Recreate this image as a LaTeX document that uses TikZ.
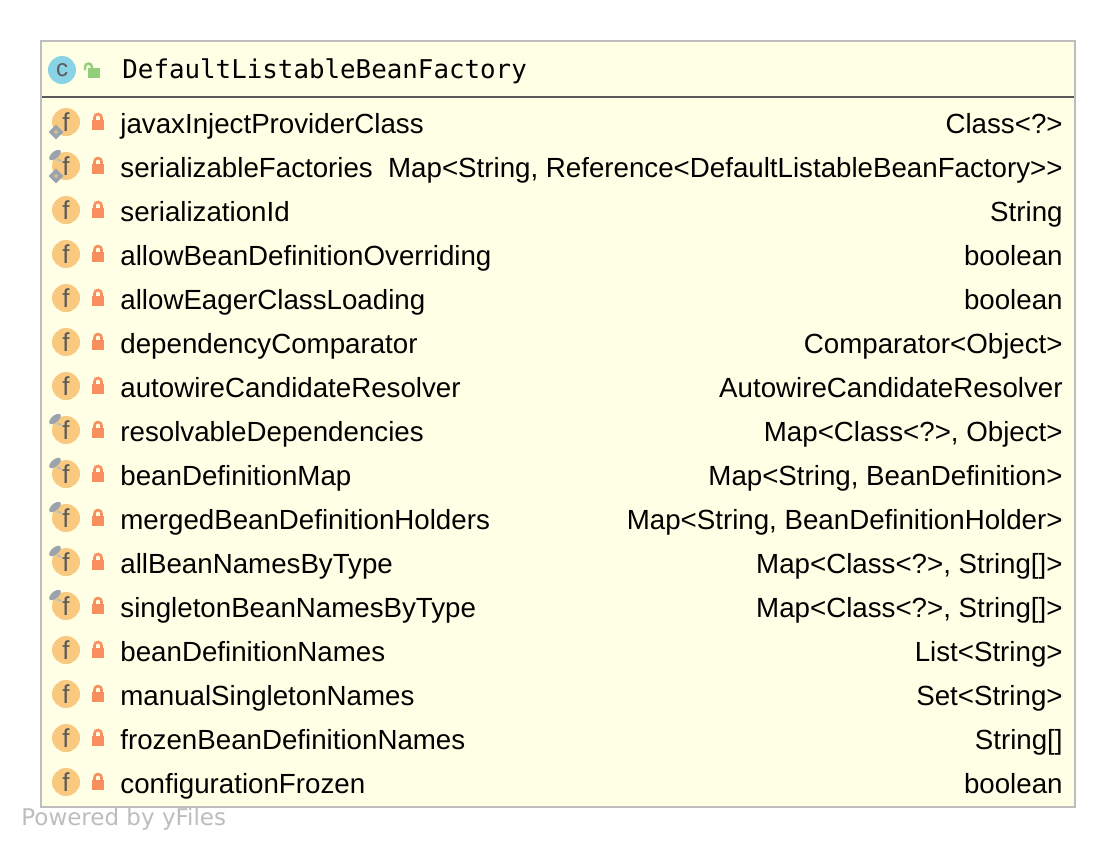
\documentclass[tikz,border=0pt]{standalone}
\usepackage{fontspec}
\setmainfont{Liberation Sans}
\setmonofont{DejaVu Sans Mono}
\newfontfamily\yfont{DejaVu Sans}
\definecolor{boxfill}{HTML}{FFFFE6}
\definecolor{boxline}{HTML}{BDBDBD}
\definecolor{headline}{HTML}{5A5A5A}
\definecolor{fieldcol}{HTML}{F8C97E}
\definecolor{lockcol}{HTML}{F98E5F}
\definecolor{classcol}{HTML}{8AD3E6}
\definecolor{opencol}{HTML}{90D07A}
\definecolor{markcol}{HTML}{9AA3AE}
\tikzset{fieldname/.style = {anchor=base west, inner sep=0pt, font=\fontsize{13.85}{16}\selectfont},
         fieldtype/.style = {anchor=base east, inner sep=0pt, font=\fontsize{13.85}{16}\selectfont}}
\newcommand{\fieldicon}[1]{%
  \fill [fieldcol] (66, #1-1) circle (14);
  \node [inner sep=0pt, text=headline, font=\fontsize{13}{15}\selectfont] at (66, #1-1) {f};
  \fill [lockcol] (92, #1-3) rectangle (104, #1+7);
  \draw [lockcol, line width=1.3pt] (94.5, #1-3) -- (94.5, #1-5.5) arc (180:360:3.5) -- (101.5, #1-3);
}
\newcommand{\finalmark}[1]{%
  \draw [markcol, fill=fieldcol!60!markcol, line width=1.6pt] (51, #1+9) -- (56, #1+4) -- (61, #1+9) -- (56, #1+14) -- cycle;
}
\newcommand{\pinmark}[1]{%
  \fill [markcol, rotate around={40:(55, #1-12)}] (55, #1-12) ellipse (7 and 3.5);
  \fill [markcol!70!white] (58, #1-9) -- (63, #1-5) -- (57, #1-6) -- cycle;
}
\begin{document}
\begin{tikzpicture}[x=0.5pt, y=-0.5pt]
  \useasboundingbox (0, 0) rectangle (1116, 848);
  \fill [white] (0, 0) rectangle (1116, 848);
  \draw [boxline, fill=boxfill, line width=1pt] (41, 41) rectangle (1075, 807);
  \draw [headline, line width=1.2pt] (42, 97) -- (1074, 97);
  % header
  \fill [classcol] (62, 70) circle (14);
  \node (classmark) [inner sep=0pt, text=headline, font=\fontsize{12}{14}\selectfont] at (62, 70) {c};
  \fill [opencol] (88, 68) rectangle (100, 78);
  \draw [opencol, line width=1.2pt] (85, 70) -- (85, 67) arc (180:360:3.5) -- (92, 68);
  \node (classname) [anchor=base west, inner sep=0pt, font=\ttfamily\fontsize{12.92}{15}\selectfont] at (122, 78) {DefaultListableBeanFactory};
  % fields
  \foreach \i/\fname/\ftype/\fkind in {
      0/javaxInjectProviderClass/{Class<?>}/1,
      1/serializableFactories/{Map<String, Reference<DefaultListableBeanFactory>{}>}/3,
      2/serializationId/String/0,
      3/allowBeanDefinitionOverriding/boolean/0,
      4/allowEagerClassLoading/boolean/0,
      5/dependencyComparator/{Comparator<Object>}/0,
      6/autowireCandidateResolver/AutowireCandidateResolver/0,
      7/resolvableDependencies/{Map<Class<?>, Object>}/2,
      8/beanDefinitionMap/{Map<String, BeanDefinition>}/2,
      9/mergedBeanDefinitionHolders/{Map<String, BeanDefinitionHolder>}/2,
      10/allBeanNamesByType/{Map<Class<?>, String[]>}/2,
      11/singletonBeanNamesByType/{Map<Class<?>, String[]>}/2,
      12/beanDefinitionNames/{List<String>}/0,
      13/manualSingletonNames/{Set<String>}/0,
      14/frozenBeanDefinitionNames/{String[]}/0,
      15/configurationFrozen/boolean/0} {
    \pgfmathsetmacro{\rowy}{123 + 44*\i}
    \fieldicon{\rowy}
    \ifodd\fkind \finalmark{\rowy} \fi
    \ifnum\fkind>1 \pinmark{\rowy} \fi
    \node (name\i) [fieldname] at (120, \rowy+10) {\fname};
    \node (type\i) [fieldtype] at (1063, \rowy+10) {\ftype};
  }
  \node (poweredby) [anchor=base west, inner sep=0pt, text=boxline, font=\yfont\fontsize{11.5}{14}\selectfont] at (21, 825) {Powered by yFiles};
\end{tikzpicture}
\end{document}
